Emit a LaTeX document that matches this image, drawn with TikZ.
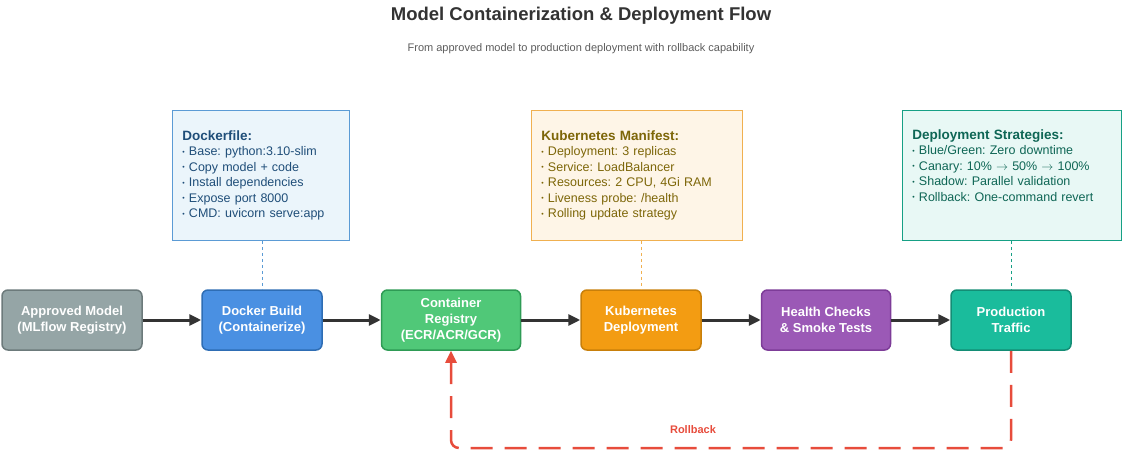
\documentclass[tikz,border=0pt]{standalone}
\usepackage{fontspec}
\setmainfont{Liberation Sans}
\usetikzlibrary{arrows.meta}
\frenchspacing

\definecolor{grayF}{HTML}{95A5A6}\definecolor{grayD}{HTML}{6C7A7B}
\definecolor{blueF}{HTML}{4A90E2}\definecolor{blueD}{HTML}{2E6DB4}
\definecolor{greenF}{HTML}{50C878}\definecolor{greenD}{HTML}{2E9B55}
\definecolor{orangeF}{HTML}{F39C12}\definecolor{orangeD}{HTML}{C87F0A}
\definecolor{purpleF}{HTML}{9B59B6}\definecolor{purpleD}{HTML}{7D3C98}
\definecolor{tealF}{HTML}{1ABC9C}\definecolor{tealD}{HTML}{138D75}
\definecolor{noteBF}{HTML}{EBF5FB}\definecolor{noteBD}{HTML}{5B9BD5}\definecolor{noteBT}{HTML}{1F4E79}
\definecolor{noteOF}{HTML}{FEF5E7}\definecolor{noteOD}{HTML}{F0B050}\definecolor{noteOT}{HTML}{7D6608}
\definecolor{noteTF}{HTML}{E8F8F5}\definecolor{noteTD}{HTML}{16A085}\definecolor{noteTT}{HTML}{0E6655}
\definecolor{rollred}{HTML}{E74C3C}
\definecolor{arrowc}{HTML}{333333}

\newcommand{\dotitem}{\raisebox{0.25ex}{\scalebox{0.55}{\textbullet}}\ }

\tikzset{
  stage/.style = {draw, line width=1.5pt, rounded corners=6pt, minimum width=120pt,
                 minimum height=60pt, align=center, text=white,
                 font=\fontsize{13}{16}\selectfont\bfseries},
  note/.style = {draw, line width=0.8pt, minimum height=130pt, align=left,
                 anchor=north west, inner sep=10pt,
                 font=\fontsize{12.5}{15.5}\selectfont},
  flow/.style = {-{Triangle[length=12pt,width=11pt]}, line width=3pt, draw=arrowc},
  tie/.style  = {dashed, line width=0.6pt}
}

\begin{document}
\begin{tikzpicture}[x=1pt, y=-1pt]
  \useasboundingbox (0,0) rectangle (1122,460);

  \node[font=\fontsize{18.5}{22}\selectfont\bfseries, text=arrowc] (title) at (581,16) {Model Containerization \& Deployment Flow};
  \node[font=\fontsize{11}{14}\selectfont, text=arrowc!80] (sub) at (581,49) {From approved model to production deployment with rollback capability};

  % pipeline
  \node[stage, fill=grayF, draw=grayD, minimum width=140pt] (model) at (72,320) {Approved Model\\(MLflow Registry)};
  \node[stage, fill=blueF, draw=blueD] (build) at (262,320) {Docker Build\\(Containerize)};
  \node[stage, fill=greenF, draw=greenD, minimum width=139pt] (reg) at (451,320) {Container\\Registry\\(ECR/ACR/GCR)};
  \node[stage, fill=orangeF, draw=orangeD] (kube) at (641,320) {Kubernetes\\Deployment};
  \node[stage, fill=purpleF, draw=purpleD, minimum width=129pt] (health) at (826,320) {Health Checks\\\& Smoke Tests};
  \node[stage, fill=tealF, draw=tealD] (prod) at (1011,320) {Production\\Traffic};

  \draw[flow] (model) -- (build);
  \draw[flow] (build) -- (reg);
  \draw[flow] (reg) -- (kube);
  \draw[flow] (kube) -- (health);
  \draw[flow] (health) -- (prod);

  % notes
  \node[note, fill=noteBF, draw=noteBD, text=noteBT, minimum width=177pt, text width=157pt] (dock) at (172,110)
    {{\fontsize{13.5}{16}\selectfont\textbf{Dockerfile:}}\\ \dotitem Base: python:3.10-slim\\ \dotitem Copy model + code\\ \dotitem Install dependencies\\ \dotitem Expose port 8000\\ \dotitem CMD: uvicorn serve:app};
  \node[note, fill=noteOF, draw=noteOD, text=noteOT, minimum width=211pt, text width=191pt] (mani) at (531,110)
    {{\fontsize{13.5}{16}\selectfont\textbf{Kubernetes Manifest:}}\\ \dotitem Deployment: 3 replicas\\ \dotitem Service: LoadBalancer\\ \dotitem Resources: 2 CPU, 4Gi RAM\\ \dotitem Liveness probe: /health\\ \dotitem Rolling update strategy};
  \node[note, fill=noteTF, draw=noteTD, text=noteTT, minimum width=219pt, text width=199pt] (strat) at (902,110)
    {{\fontsize{13.5}{16}\selectfont\textbf{Deployment Strategies:}}\\ \dotitem Blue/Green: Zero downtime\\ \dotitem Canary: 10\% $\to$ 50\% $\to$ 100\%\\ \dotitem Shadow: Parallel validation\\ \dotitem Rollback: One-command revert\\ \strut};

  \draw[tie, draw=noteBD] (dock.south -| build) -- (build.north);
  \draw[tie, draw=noteOD] (mani.south -| kube) -- (kube.north);
  \draw[tie, draw=noteTD] (strat.south -| prod) -- (prod.north);

  % rollback
  \coordinate (low) at (1011,448);
  \draw[rollred, line width=2.5pt, dash pattern=on 22pt off 12pt, rounded corners=8pt,
        -{Triangle[length=12pt,width=11pt]}]
    (prod.south) -- (low) -- (low -| reg) -- (reg.south);
  \node[text=rollred, font=\fontsize{11}{13}\selectfont\bfseries] (rb) at (693,430) {Rollback};
\end{tikzpicture}
\end{document}
